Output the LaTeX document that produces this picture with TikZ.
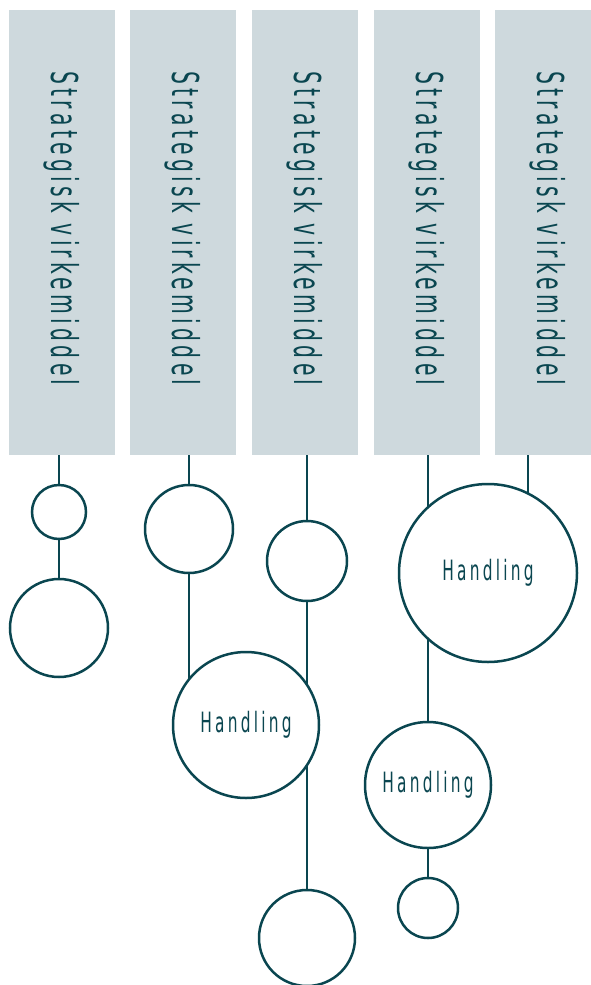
\documentclass[tikz,border=0pt]{standalone}
\usepackage{fontspec}
\newfontfamily\agency[FakeStretch=0.55,LetterSpace=11.5]{DejaVu Sans}
\usetikzlibrary{backgrounds}
\definecolor{petrol}{RGB}{10,70,80}
\definecolor{mist}{RGB}{206,217,221}
\begin{document}
\begin{tikzpicture}[x=1pt,y=-1pt]
\tikzset{colbox/.style={fill=mist,minimum width=106pt,minimum height=445pt,inner sep=0pt}}
\tikzset{collabel/.style={rotate=-90,text=petrol,inner sep=0pt,font=\agency\fontsize{37}{37}\selectfont}}
\tikzset{ball/.style={circle,draw=petrol,line width=2.5pt,fill=white,inner sep=0pt,
  text=petrol,font=\agency\fontsize{28}{28}\selectfont}}
\tikzset{stem/.style={draw=petrol,line width=2.5pt}}
\useasboundingbox (0,0) rectangle (591,985);
%columns
\foreach \i/\xLoc in {1/62,2/183,3/305,4/427,5/548}{
\node[colbox] (col\i) at (\xLoc,232.5) {};
\node[collabel] (lab\i) at ([yshift=4pt]col\i.center) {Strategisk virkemiddel};}
%circles
\node[ball,minimum size=54pt] (c11) at (59,512) {};
\node[ball,minimum size=98pt] (c12) at (59,628) {};
\node[ball,minimum size=88pt] (c21) at (189,529) {};
\node[ball,minimum size=146pt] (h21) at (246,725) {Handling};
\node[ball,minimum size=80pt] (c31) at (307,561) {};
\node[ball,minimum size=96pt] (c32) at (307,938) {};
\node[ball,minimum size=178pt] (h41) at (488,573) {Handling};
\node[ball,minimum size=126pt] (h42) at (428,785) {Handling};
\node[ball,minimum size=60pt] (c43) at (428,908) {};
\coordinate (k5) at (528,520);
%stems
\begin{scope}[on background layer]
\draw[stem] (col1.south -| c11) -- (c11) -- (c12);
\draw[stem] (col2.south -| c21) -- (c21) -- (c21 |- h21);
\draw[stem] (col3.south -| c31) -- (c31) -- (c32);
\draw[stem] (col4.south -| h42) -- (h42) -- (c43);
\draw[stem] (col5.south -| k5) -- (k5);
\end{scope}
\end{tikzpicture}
\end{document}
